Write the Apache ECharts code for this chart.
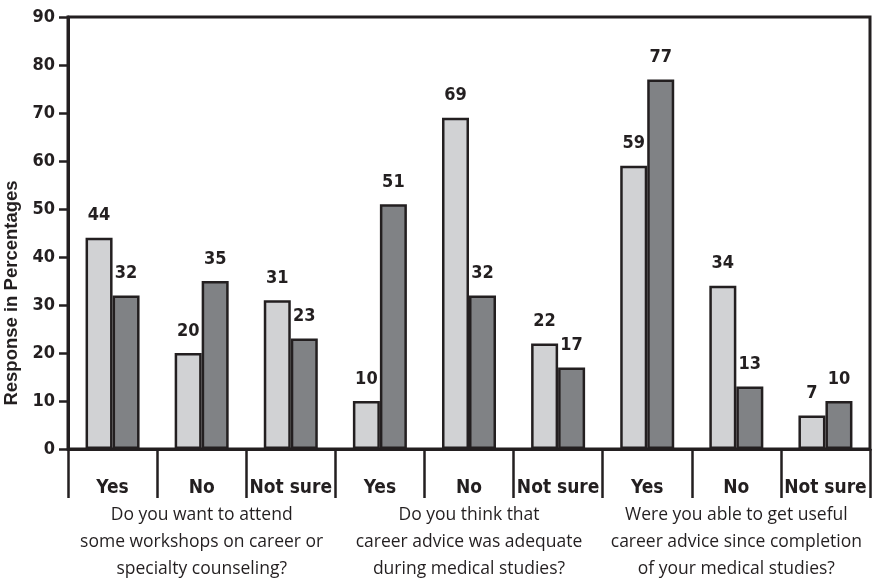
<!DOCTYPE html>
<html>
<head>
<meta charset="utf-8">
<style>
  html, body { margin: 0; padding: 0; background: #ffffff; }
  #chart { width: 872px; height: 583px; }
</style>
<script src="https://cdn.jsdelivr.net/npm/echarts@6/dist/echarts.min.js"></script>
</head>
<body>
<div id="chart"></div>
<script>
// Answer categories (three per question)
const answers = ['Yes', 'No', 'Not sure', 'Yes', 'No', 'Not sure', 'Yes', 'No', 'Not sure'];
// Question text under each group of three answers
const questions = [
  'Do you want to attend\nsome workshops on career or\nspecialty counseling?',
  'Do you think that\ncareer advice was adequate\nduring medical studies?',
  'Were you able to get useful\ncareer advice since completion\nof your medical studies?'
];
// Response percentages for the two respondent groups
const groupLight = [44, 20, 31, 10, 69, 22, 59, 34, 7];
const groupDark = [32, 35, 23, 51, 32, 17, 77, 13, 10];
// Value axis ticks
const yMin = 0, yMax = 90, yStep = 10;

const ink = '#231f20';
const narrow = '"DejaVu Sans Condensed", "Liberation Sans Narrow", sans-serif';

const chart = echarts.init(document.getElementById('chart'), null, { renderer: 'canvas' });

const barLabel = {
  show: true,
  position: 'top',
  distance: 13,
  color: ink,
  fontFamily: narrow,
  fontWeight: 'bold',
  fontSize: 18
};

chart.setOption({
  animation: false,
  backgroundColor: '#ffffff',
  grid: {
    left: 68, right: 2, top: 17, bottom: 134,
    containLabel: false,
    outerBoundsMode: 'none',
    show: true, borderColor: ink, borderWidth: 3, backgroundColor: 'transparent'
  },
  xAxis: [
    {
      type: 'category',
      data: answers,
      position: 'bottom',
      offset: 0,
      axisLine: { show: true, lineStyle: { color: ink, width: 3 } },
      axisTick: { show: true, interval: 0, length: 49, lineStyle: { color: ink, width: 2.5 } },
      axisLabel: {
        interval: 0, margin: 30, color: ink,
        fontFamily: narrow, fontWeight: 'bold', fontSize: 19
      },
      splitLine: { show: false }
    },
    {
      type: 'category',
      data: questions,
      position: 'bottom',
      offset: 0,
      axisLine: { show: false },
      axisTick: { show: false },
      axisLabel: {
        interval: 0, margin: 53, color: ink,
        fontFamily: '"Open Sans", Lato, sans-serif', fontSize: 17.5, lineHeight: 27, align: 'center'
      },
      splitLine: { show: false }
    }
  ],
  yAxis: {
    type: 'value',
    min: yMin, max: yMax, interval: yStep,
    name: 'Response in Percentages',
    nameLocation: 'middle',
    nameRotate: 90,
    nameGap: 44,
    nameTextStyle: {
      color: ink, fontFamily: '"Liberation Sans", Arial, sans-serif',
      fontWeight: 'bold', fontSize: 18.5, padding: [0, 120, 0, 0]
    },
    axisLine: { show: true, lineStyle: { color: ink, width: 3 } },
    axisTick: { show: true, length: 9, lineStyle: { color: ink, width: 2.5 } },
    axisLabel: { margin: 13, color: ink, fontFamily: narrow, fontWeight: 'bold', fontSize: 18 },
    splitLine: { show: false }
  },
  series: [
    {
      name: 'Light group',
      type: 'bar',
      xAxisIndex: 0,
      data: groupLight,
      barWidth: 27,
      barGap: '0%',
      itemStyle: { color: '#d1d2d4', borderColor: ink, borderWidth: 2.5 },
      label: barLabel
    },
    {
      name: 'Dark group',
      type: 'bar',
      xAxisIndex: 0,
      data: groupDark,
      barWidth: 27,
      barGap: '0%',
      itemStyle: { color: '#808285', borderColor: ink, borderWidth: 2.5 },
      label: barLabel
    }
  ]
});
</script>
</body>
</html>
